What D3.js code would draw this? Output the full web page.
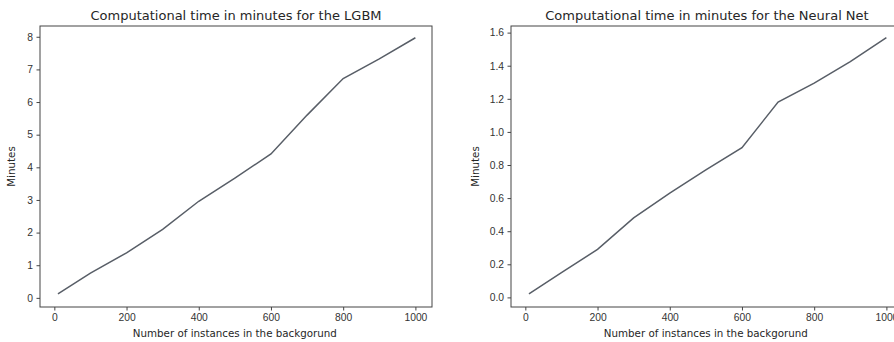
<!DOCTYPE html>
<html>
<head>
<meta charset="utf-8">
<script src="https://cdn.jsdelivr.net/npm/d3@7"></script>
<style>
  body { margin: 0; background: #fff; }
  svg { display: block; font-family: "DejaVu Sans", sans-serif; }
  .tick text { fill: #333; font-size: 10.3px; }
  .tick line { stroke: #444; }
  .domain { stroke: none; }
</style>
</head>
<body>
<svg id="chart" width="894" height="342"></svg>
<script>
// background sizes (shared by both panels)
const instances = [10, 100, 200, 300, 400, 500, 600, 700, 800, 900, 1000];
// minutes per model
const lgbmMinutes = [0.12, 0.76, 1.38, 2.1, 2.96, 3.67, 4.41, 5.6, 6.72, 7.32, 7.97];
const nnMinutes = [0.022, 0.15, 0.29, 0.48, 0.63, 0.77, 0.905, 1.18, 1.295, 1.425, 1.57];

const xTicks = [0, 200, 400, 600, 800, 1000];
const lgbmTicks = [0, 1, 2, 3, 4, 5, 6, 7, 8];
const nnTicks = [0, 0.2, 0.4, 0.6, 0.8, 1.0, 1.2, 1.4, 1.6];

const panels = [
  { title: "Computational time in minutes for the LGBM", values: lgbmMinutes,
    yDomain: [-0.28, 8.33], yTicks: lgbmTicks, fmt: d3.format("d"), left: 40, ylabX: 15 },
  { title: "Computational time in minutes for the Neural Net", values: nnMinutes,
    yDomain: [-0.058, 1.64], yTicks: nnTicks, fmt: d3.format(".1f"), left: 511, ylabX: 479 }
];

const svg = d3.select("#chart");
const plotTop = 26, plotBottom = 307, plotW = 392;

panels.forEach(p => {
  const x = d3.scaleLinear().domain([-39.7, 1046]).range([p.left, p.left + plotW]);
  const y = d3.scaleLinear().domain(p.yDomain).range([plotBottom, plotTop]);
  const g = svg.append("g");

  g.append("g")
    .attr("transform", `translate(0,${plotBottom})`)
    .call(d3.axisBottom(x).tickValues(xTicks).tickSize(3.5).tickPadding(3.5).tickFormat(d3.format("d")));

  g.append("g")
    .attr("transform", `translate(${p.left},0)`)
    .call(d3.axisLeft(y).tickValues(p.yTicks).tickSize(3.5).tickPadding(3.5).tickFormat(p.fmt));

  g.append("path")
    .datum(instances.map((d, i) => [d, p.values[i]]))
    .attr("fill", "none")
    .attr("stroke", "#585e67")
    .attr("stroke-width", 1.5)
    .attr("d", d3.line().x(d => x(d[0])).y(d => y(d[1])));

  g.append("rect")
    .attr("x", p.left).attr("y", plotTop)
    .attr("width", plotW).attr("height", plotBottom - plotTop)
    .attr("fill", "none").attr("stroke", "#444").attr("stroke-width", 1);

  g.append("text")
    .attr("x", p.left + plotW / 2).attr("y", 20)
    .attr("text-anchor", "middle").attr("font-size", 13).attr("fill", "#262626")
    .text(p.title);

  g.append("text")
    .attr("x", x(500)).attr("y", 337)
    .attr("text-anchor", "middle").attr("font-size", 10.3).attr("fill", "#262626")
    .text("Number of instances in the backgorund");

  g.append("text")
    .attr("transform", `translate(${p.ylabX},${(plotTop + plotBottom) / 2}) rotate(-90)`)
    .attr("text-anchor", "middle").attr("font-size", 10.3).attr("fill", "#262626")
    .text("Minutes");
});
</script>
</body>
</html>
